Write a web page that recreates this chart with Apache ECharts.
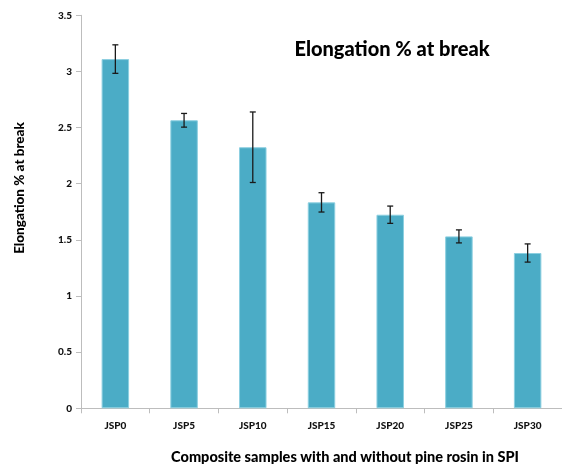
<!DOCTYPE html>
<html>
<head>
<meta charset="utf-8">
<script src="https://cdn.jsdelivr.net/npm/echarts@6/dist/echarts.min.js"></script>
<style>
  html, body { margin: 0; padding: 0; background: #fff; }
  #chart { width: 562px; height: 464px; }
</style>
</head>
<body>
<div id="chart"></div>
<script>
// Elongation at break per composite sample, mean and standard deviation
const samples = ['JSP0', 'JSP5', 'JSP10', 'JSP15', 'JSP20', 'JSP25', 'JSP30'];
const elongation = [3.11, 2.565, 2.325, 1.834, 1.724, 1.531, 1.383];
const deviation = [0.127, 0.061, 0.314, 0.086, 0.077, 0.058, 0.081];
const yTicks = [0, 0.5, 1, 1.5, 2, 2.5, 3, 3.5];

const FONT = 'Lato, "Open Sans", sans-serif';
const chart = echarts.init(document.getElementById('chart'));

const errorData = samples.map((s, i) => [i, elongation[i] - deviation[i], elongation[i] + deviation[i]]);

chart.setOption({
  animation: false,
  backgroundColor: '#ffffff',
  grid: { left: 81, top: 15.3, width: 490, height: 393, containLabel: false },
  xAxis: {
    type: 'category',
    data: samples,
    axisLine: { lineStyle: { color: '#bdbdbd', width: 1 } },
    axisTick: { show: true, alignWithLabel: false, length: 5, lineStyle: { color: '#bdbdbd' } },
    axisLabel: { color: '#111', fontFamily: FONT, fontWeight: 900, fontSize: 10, margin: 12 }
  },
  yAxis: {
    type: 'value',
    min: yTicks[0],
    max: yTicks[yTicks.length - 1],
    interval: 0.5,
    splitLine: { show: false },
    axisLine: { show: true, lineStyle: { color: '#bdbdbd', width: 1 } },
    axisTick: { show: true, length: 5, lineStyle: { color: '#bdbdbd' } },
    axisLabel: { color: '#111', fontFamily: FONT, fontWeight: 900, fontSize: 10, margin: 9 }
  },
  graphic: [
    {
      type: 'text', x: 392, y: 50,
      style: { text: 'Elongation % at break', font: '900 20px ' + FONT, fill: '#000', align: 'center', verticalAlign: 'middle' }
    },
    {
      type: 'text', x: 345, y: 457,
      style: { text: 'Composite samples with and without pine rosin in SPI', font: '900 14.5px ' + FONT, fill: '#000', align: 'center', verticalAlign: 'middle' }
    },
    {
      type: 'text', x: 20, y: 188, rotation: Math.PI / 2,
      style: { text: 'Elongation % at break', font: '900 13.5px ' + FONT, fill: '#000', align: 'center', verticalAlign: 'middle' }
    }
  ],
  series: [
    {
      type: 'bar',
      data: elongation,
      barWidth: '40%',
      itemStyle: { color: '#4bacc6', borderColor: '#8ccfe0', borderWidth: 1 }
    },
    {
      type: 'custom',
      data: errorData,
      z: 10,
      renderItem: function (params, api) {
        const x = api.value(0);
        const lo = api.coord([x, api.value(1)]);
        const hi = api.coord([x, api.value(2)]);
        const cap = 3;
        const st = { stroke: '#1a1a1a', lineWidth: 1.3 };
        return {
          type: 'group',
          children: [
            { type: 'line', shape: { x1: hi[0], y1: hi[1], x2: lo[0], y2: lo[1] }, style: st },
            { type: 'line', shape: { x1: hi[0] - cap, y1: hi[1], x2: hi[0] + cap, y2: hi[1] }, style: st },
            { type: 'line', shape: { x1: lo[0] - cap, y1: lo[1], x2: lo[0] + cap, y2: lo[1] }, style: st }
          ]
        };
      }
    }
  ]
});
</script>
</body>
</html>
